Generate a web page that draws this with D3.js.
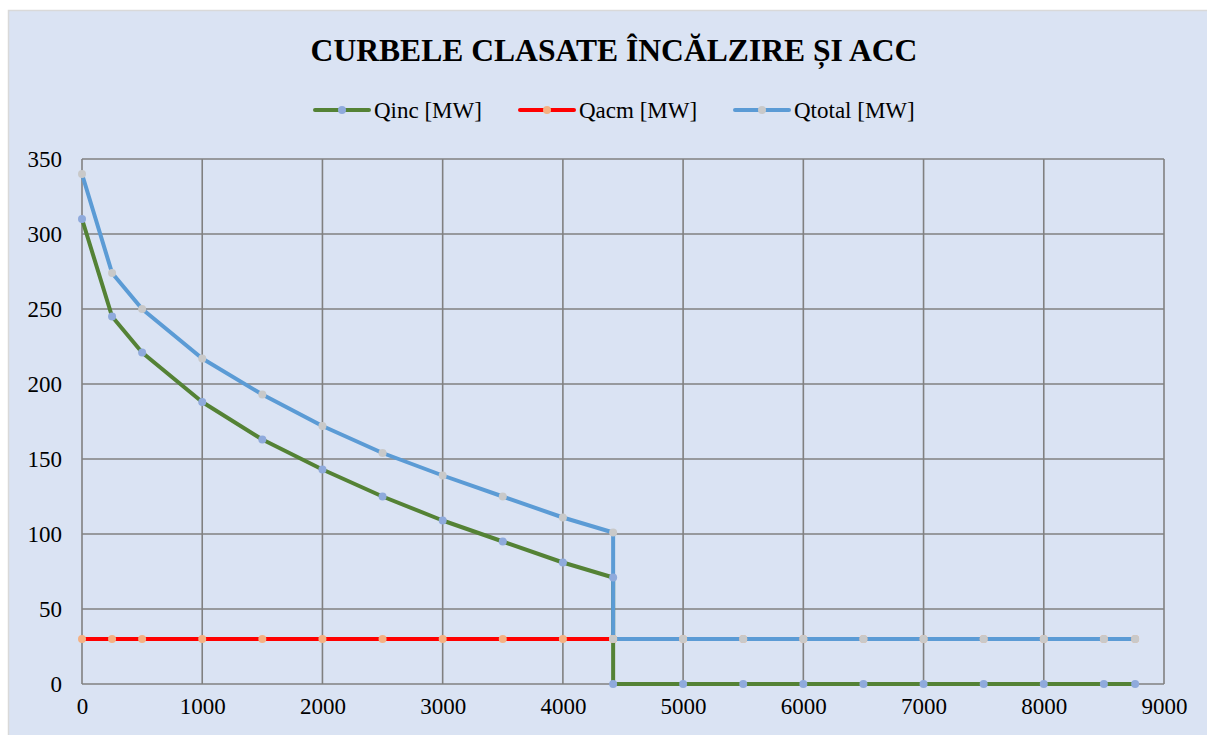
<!DOCTYPE html>
<html>
<head>
<meta charset="utf-8">
<script src="https://cdn.jsdelivr.net/npm/d3@7"></script>
<style>
  html, body { margin: 0; padding: 0; background: #ffffff; }
  svg { display: block; }
</style>
</head>
<body>
<svg id="chart" width="1207" height="735"></svg>
<script>
// Duration curves (hours of the year vs. thermal load)
const hours  = [0, 250, 500, 1000, 1500, 2000, 2500, 3000, 3500, 4000, 4418, 4418,
                5000, 5500, 6000, 6500, 7000, 7500, 8000, 8500, 8760];
const qInc   = [310, 245, 221, 188, 163, 143, 125, 109, 95, 81, 71, 0,
                0, 0, 0, 0, 0, 0, 0, 0, 0];
const qAcm   = [30, 30, 30, 30, 30, 30, 30, 30, 30, 30, 30, 30,
                30, 30, 30, 30, 30, 30, 30, 30, 30];
const qTotal = [340, 274, 250, 217, 193, 172, 154, 139, 125, 111, 101, 30,
                30, 30, 30, 30, 30, 30, 30, 30, 30];
const xTicks = [0, 1000, 2000, 3000, 4000, 5000, 6000, 7000, 8000, 9000];
const yTicks = [0, 50, 100, 150, 200, 250, 300, 350];
const seriesNames = ["Qinc [MW]", "Qacm [MW]", "Qtotal [MW]"];
const title = "CURBELE CLASATE ÎNCĂLZIRE ȘI ACC";

const series = [
  { name: seriesNames[0], values: qInc,   line: "#548235", marker: "#8faadc" },
  { name: seriesNames[1], values: qAcm,   line: "#ff0000", marker: "#f4b183" },
  { name: seriesNames[2], values: qTotal, line: "#5b9bd5", marker: "#c9c9c9" }
];

const svg = d3.select("#chart");
const font = "'Liberation Serif', 'Times New Roman', serif";

// chart frame
svg.append("rect")
  .attr("x", 8.5).attr("y", 10.5)
  .attr("width", 1220).attr("height", 740)
  .attr("fill", "#dae3f3")
  .attr("stroke", "#d9d9d9").attr("stroke-width", 1.5);

const plot = { left: 82, right: 1164, top: 159, bottom: 684 };
const x = d3.scaleLinear().domain([0, 9000]).range([plot.left, plot.right]);
const y = d3.scaleLinear().domain([0, 350]).range([plot.bottom, plot.top]);

// grid
const grid = svg.append("g");
grid.selectAll("line.h").data(yTicks).join("line")
  .attr("x1", plot.left).attr("x2", plot.right)
  .attr("y1", d => y(d)).attr("y2", d => y(d))
  .attr("stroke", "#808080").attr("stroke-width", 1.6);
grid.selectAll("line.v").data(xTicks).join("line")
  .attr("y1", plot.top).attr("y2", plot.bottom)
  .attr("x1", d => x(d)).attr("x2", d => x(d))
  .attr("stroke", "#808080").attr("stroke-width", 1.6);

// axes labels
const yAxis = d3.axisLeft(y).tickValues(yTicks).tickFormat(d3.format("d"))
  .tickSize(0).tickPadding(20);
svg.append("g").attr("transform", `translate(${plot.left},0)`).call(yAxis)
  .call(g => g.select(".domain").remove())
  .selectAll("text")
  .attr("font-family", font).attr("font-size", 23).attr("fill", "#000");

const xAxis = d3.axisBottom(x).tickValues(xTicks).tickFormat(d3.format("d"))
  .tickSize(0).tickPadding(14);
svg.append("g").attr("transform", `translate(0,${plot.bottom})`).call(xAxis)
  .call(g => g.select(".domain").remove())
  .selectAll("text")
  .attr("font-family", font).attr("font-size", 23).attr("fill", "#000");

// series lines and markers
const line = d3.line().x((d, i) => x(hours[i])).y(d => y(d));
series.forEach(s => {
  svg.append("path")
    .datum(s.values)
    .attr("d", line)
    .attr("fill", "none")
    .attr("stroke", s.line)
    .attr("stroke-width", 4)
    .attr("stroke-linejoin", "round");
});
series.forEach(s => {
  svg.append("g").selectAll("circle").data(s.values).join("circle")
    .attr("cx", (d, i) => x(hours[i]))
    .attr("cy", d => y(d))
    .attr("r", 4)
    .attr("fill", s.marker);
});

// title
svg.append("text")
  .attr("x", 614).attr("y", 61)
  .attr("text-anchor", "middle")
  .attr("font-family", font).attr("font-weight", "bold")
  .attr("font-size", 31.6).attr("fill", "#000")
  .text(title);

// legend
const legendX = [315, 520, 735];
const legend = svg.append("g");
series.forEach((s, i) => {
  const g = legend.append("g").attr("transform", `translate(${legendX[i]},110)`);
  g.append("line").attr("x1", 0).attr("x2", 54).attr("y1", 0).attr("y2", 0)
    .attr("stroke", s.line).attr("stroke-width", 4).attr("stroke-linecap", "round");
  g.append("circle").attr("cx", 27).attr("cy", 0).attr("r", 4).attr("fill", s.marker);
  g.append("text").attr("x", 59).attr("y", 8)
    .attr("font-family", font).attr("font-size", 23).attr("fill", "#000")
    .text(s.name);
});
</script>
</body>
</html>
